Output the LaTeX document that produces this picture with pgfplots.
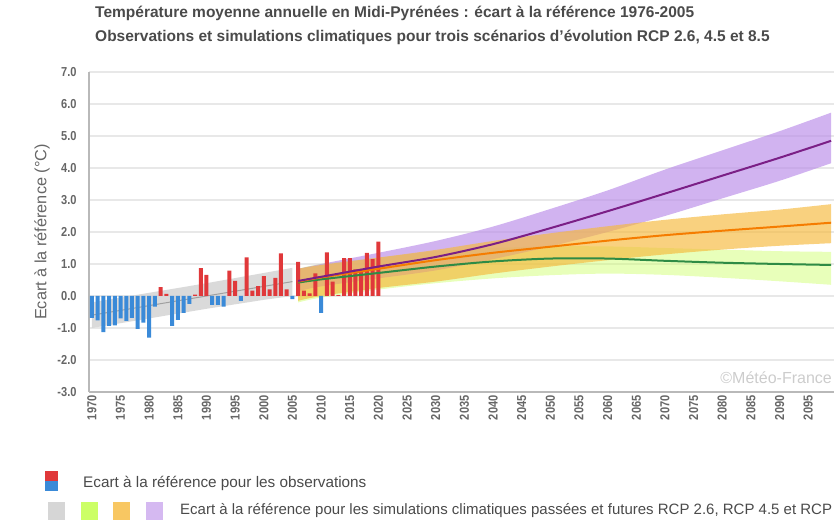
\documentclass[border=0pt]{standalone}
\usepackage{fontspec}
\setmainfont{Liberation Sans}
\newfontfamily\narrowfont{Liberation Sans}[FakeStretch=0.85]
\usepackage{pgfplots}
\pgfplotsset{compat=1.18}
\usepackage{pgfplotstable}
\usepgfplotslibrary{fillbetween}

\definecolor{obsred}{HTML}{E0383A}
\definecolor{obsblue}{HTML}{3A8AD8}
\definecolor{histband}{HTML}{D6D6D6}
\definecolor{histline}{HTML}{A0A0A0}
\definecolor{bandA}{HTML}{CCFF66}
\definecolor{lineA}{HTML}{2E8B45}
\definecolor{bandB}{HTML}{F6B93B}
\definecolor{lineB}{HTML}{F57C00}
\definecolor{bandC}{HTML}{B98BE8}
\definecolor{lineC}{HTML}{7B1F86}
\definecolor{txt}{HTML}{4A4A4A}
\definecolor{ticktxt}{HTML}{666666}

% historique (simulations passees)
\pgfplotstableread{
year lo mid hi
1970 -1.00 -0.60 -0.20
1980 -0.70 -0.30 0.10
1990 -0.40 0.00 0.40
2000 -0.12 0.30 0.72
2005 0.00 0.45 0.88
}\histtab

% RCP 2.6
\pgfplotstableread{
year lo mid hi
2006 -0.20 0.42 0.85
2010 -0.05 0.52 1.00
2020 0.20 0.72 1.20
2030 0.40 0.92 1.40
2040 0.55 1.08 1.50
2050 0.65 1.17 1.55
2060 0.70 1.17 1.55
2070 0.66 1.10 1.50
2080 0.57 1.04 1.45
2090 0.46 1.00 1.40
2099 0.35 0.97 1.38
}\rcpA

% RCP 4.5
\pgfplotstableread{
year lo mid hi
2006 -0.15 0.45 0.85
2010 0.00 0.58 0.97
2020 0.25 0.85 1.20
2030 0.45 1.12 1.44
2040 0.70 1.35 1.72
2050 0.92 1.54 1.96
2060 1.12 1.73 2.18
2070 1.30 1.90 2.38
2080 1.45 2.04 2.55
2090 1.57 2.17 2.70
2099 1.65 2.29 2.87
}\rcpB

% RCP 8.5
\pgfplotstableread{
year lo mid hi
2006 0.15 0.47 0.85
2010 0.30 0.60 1.00
2020 0.55 0.92 1.35
2030 0.80 1.22 1.72
2040 1.15 1.62 2.17
2050 1.55 2.12 2.72
2060 2.00 2.65 3.30
2070 2.50 3.20 3.95
2080 3.05 3.76 4.55
2090 3.60 4.32 5.15
2099 4.15 4.85 5.73
}\rcpC

\begin{document}
\begin{tikzpicture}

\node[anchor=base west, text=txt, font=\bfseries\fontsize{15.5bp}{17bp}\selectfont, inner sep=0pt]
  at (95bp,506bp) {Température moyenne annuelle en Midi-Pyrénées : écart à la référence 1976-2005};
\node[anchor=base west, text=txt, font=\bfseries\fontsize{15.5bp}{17bp}\selectfont, inner sep=0pt]
  at (95bp,482bp) {Observations et simulations climatiques pour trois scénarios d'évolution RCP 2.6, 4.5 et 8.5};

\begin{axis}[
    at={(89bp,132bp)}, anchor=south west,
    width=745bp, height=320bp, scale only axis,
    xmin=1969.5, xmax=2099.5,
    ymin=-3, ymax=7,
    xtick={1970,1975,...,2095},
    ytick={-3,-2,...,7},
    major tick length=0pt,
    axis x line*=bottom, axis y line*=left,
    axis line style={draw=gray!55, line width=1.6bp, -},
    ymajorgrids,
    major grid style={draw=gray!18, line width=1.3bp},
    extra y ticks={0}, extra y tick labels={},
    extra y tick style={grid style={draw=gray!50, line width=1.4bp}},
    /pgf/number format/assume math mode=true,
    /pgf/number format/1000 sep={},
    xticklabel style={rotate=90, anchor=east, text=ticktxt,
      font=\narrowfont\bfseries\fontsize{13bp}{13bp}\selectfont},
    yticklabel style={text=ticktxt, xshift=-9bp,
      font=\narrowfont\bfseries\fontsize{13bp}{13bp}\selectfont,
      /pgf/number format/fixed, /pgf/number format/fixed zerofill,
      /pgf/number format/precision=1},
  ]

  % bandes
  \addplot[name path=hlo, draw=none] table[x=year,y=lo]{\histtab};
  \addplot[name path=hhi, draw=none] table[x=year,y=hi]{\histtab};
  \addplot[fill=histband, fill opacity=0.9, draw=none] fill between[of=hlo and hhi];

  \addplot[name path=alo, draw=none, smooth] table[x=year,y=lo]{\rcpA};
  \addplot[name path=ahi, draw=none, smooth] table[x=year,y=hi]{\rcpA};
  \addplot[fill=bandA, fill opacity=0.45, draw=none] fill between[of=alo and ahi];

  \addplot[name path=clo, draw=none, smooth] table[x=year,y=lo]{\rcpC};
  \addplot[name path=chi, draw=none, smooth] table[x=year,y=hi]{\rcpC};
  \addplot[fill=bandC, fill opacity=0.65, draw=none] fill between[of=clo and chi];

  \addplot[name path=blo, draw=none, smooth] table[x=year,y=lo]{\rcpB};
  \addplot[name path=bhi, draw=none, smooth] table[x=year,y=hi]{\rcpB};
  \addplot[fill=bandB, fill opacity=0.65, draw=none] fill between[of=blo and bhi];

  \addplot[histline, line width=1bp] table[x=year,y=mid]{\histtab};

  % observations
  \addplot[ybar, bar width=4bp, bar shift=0pt, fill=obsred, draw=none] coordinates {
    (1982,0.28) (1983,0.07) (1988,0.04) (1989,0.87) (1990,0.66)
    (1994,0.79) (1995,0.47) (1997,1.21) (1998,0.17) (1999,0.31)
    (2000,0.62) (2001,0.21) (2002,0.57) (2003,1.33) (2004,0.21)
    (2006,1.07) (2007,0.17) (2008,0.08) (2009,0.71) (2011,1.36)
    (2012,0.45) (2013,0.03) (2014,1.18) (2015,1.18) (2016,0.83)
    (2017,0.81) (2018,1.35) (2019,1.15) (2020,1.70)
  };
  \addplot[ybar, bar width=4bp, bar shift=0pt, fill=obsblue, draw=none] coordinates {
    (1970,-0.68) (1971,-0.76) (1972,-1.13) (1973,-0.93) (1974,-0.92)
    (1975,-0.70) (1976,-0.78) (1977,-0.68) (1978,-1.03) (1979,-0.83)
    (1980,-1.30) (1981,-0.33) (1984,-0.93) (1985,-0.75) (1986,-0.53)
    (1987,-0.25) (1991,-0.28) (1992,-0.28) (1993,-0.33) (1996,-0.15)
    (2005,-0.10) (2010,-0.53)
  };

  % trajectoires medianes
  \addplot[lineA, line width=2bp, smooth] table[x=year,y=mid]{\rcpA};
  \addplot[lineB, line width=2bp, smooth] table[x=year,y=mid]{\rcpB};
  \addplot[lineC, line width=2bp, smooth] table[x=year,y=mid]{\rcpC};
\end{axis}

\node[rotate=90, text=ticktxt, font=\fontsize{16.3bp}{18bp}\selectfont] at (42bp,292bp) {Ecart à la référence (°C)};
\node[anchor=east, text=gray!40, font=\fontsize{16bp}{17bp}\selectfont, inner sep=0pt] at (832bp,146bp) {©Météo-France};

% legende
\fill[obsred] (45bp,43bp) rectangle (58bp,53bp);
\fill[obsblue] (45bp,33bp) rectangle (58bp,43bp);
\node[anchor=west, text=txt, font=\fontsize{15.3bp}{17bp}\selectfont, inner sep=0pt] at (83bp,41bp) {Ecart à la référence pour les observations};
\fill[histband] (48bp,4bp) rectangle (65bp,22bp);
\fill[bandA] (81bp,4bp) rectangle (98bp,22bp);
\fill[bandB!80] (113bp,4bp) rectangle (130bp,22bp);
\fill[bandC!60] (146bp,4bp) rectangle (163bp,22bp);
\node[anchor=west, text=txt, font=\fontsize{15bp}{17bp}\selectfont, inner sep=0pt] at (180bp,13bp) {Ecart à la référence pour les simulations climatiques passées et futures RCP 2.6, RCP 4.5 et RCP};

\pgfresetboundingbox
\path[use as bounding box] (0bp,0bp) rectangle (837bp,524bp);
\end{tikzpicture}
\end{document}
